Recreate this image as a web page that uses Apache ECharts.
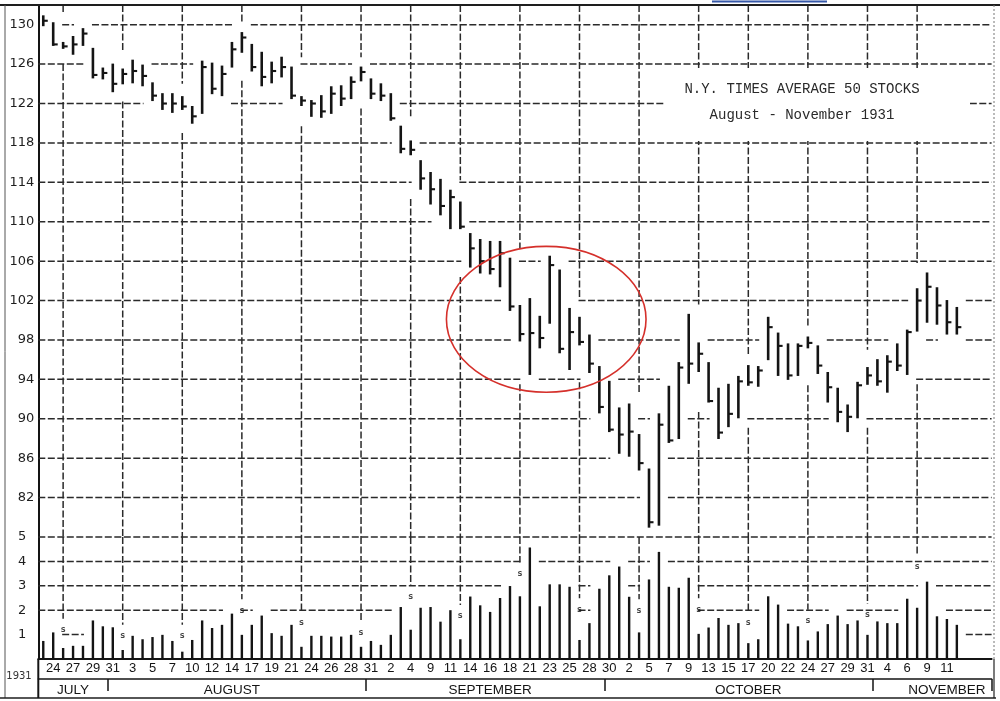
<!DOCTYPE html>
<html>
<head>
<meta charset="utf-8">
<title>N.Y. Times Average 50 Stocks, August - November 1931</title>
<script src="https://cdn.jsdelivr.net/npm/echarts@6.0.0/dist/echarts.min.js"></script>
<style>
html,body{margin:0;padding:0;background:#fff;}
#chart{width:1000px;height:701px;}
</style>
</head>
<body>
<div id="chart"></div>
<script>
// ---------------- data ----------------
const dates = ['Jul 23','Jul 24','Jul 25','Jul 27','Jul 28','Jul 29','Jul 30','Jul 31',
'Aug 1','Aug 3','Aug 4','Aug 5','Aug 6','Aug 7','Aug 8','Aug 10','Aug 11','Aug 12','Aug 13','Aug 14','Aug 15',
'Aug 17','Aug 18','Aug 19','Aug 20','Aug 21','Aug 22','Aug 24','Aug 25','Aug 26','Aug 27','Aug 28','Aug 29','Aug 31',
'Sep 1','Sep 2','Sep 3','Sep 5','Sep 8','Sep 9','Sep 10','Sep 11','Sep 12','Sep 14','Sep 15','Sep 16','Sep 17','Sep 18','Sep 19',
'Sep 21','Sep 22','Sep 23','Sep 24','Sep 25','Sep 26','Sep 28','Sep 29','Sep 30',
'Oct 1','Oct 2','Oct 3','Oct 5','Oct 6','Oct 7','Oct 8','Oct 9','Oct 10','Oct 13','Oct 14','Oct 15','Oct 16','Oct 17',
'Oct 19','Oct 20','Oct 21','Oct 22','Oct 23','Oct 24','Oct 26','Oct 27','Oct 28','Oct 29','Oct 30','Oct 31',
'Nov 2','Nov 4','Nov 5','Nov 6','Nov 7','Nov 9','Nov 10','Nov 11','Nov 12','Nov 13','Nov 14','Nov 16'];

const tickLabels = ['','24','','27','','29','','31','','3','','5','','7','','10','','12','','14','','17','','19','','21',
'','24','','26','','28','','31','','2','','4','','9','','11','','14','','16','','18','','21','','23','','25','','28','','30',
'','2','','5','','7','','9','','13','','15','','17','','20','','22','','24','','27','','29','','31','','4','','6','','9','','11',
'','','',''];

const saturdays = ['Jul 25','Aug 1','Aug 8','Aug 15','Aug 22','Aug 29','Sep 5','Sep 12','Sep 19','Sep 26',
'Oct 3','Oct 10','Oct 17','Oct 24','Oct 31','Nov 7'];
const satMarks = [1.2,0.95,0.95,2.0,1.5,1.08,2.55,1.76,3.5,2.04,2.0,2.04,1.5,1.57,1.8,3.8];

const highs = [130.9,130.2,128.2,128.8,129.6,127.6,125.6,126.0,125.5,126.4,
125.9,124.1,123.0,123.0,122.7,121.7,126.3,126.1,125.8,128.2,
129.2,128.0,127.2,126.2,126.7,125.7,122.7,122.3,122.8,123.7,
123.8,124.7,125.7,124.5,124.0,123.0,119.7,118.2,116.2,115.0,
114.3,113.2,112.0,108.8,108.2,108.0,108.0,106.3,101.5,102.2,
100.4,106.5,105.1,101.2,100.3,98.5,95.3,93.8,91.1,91.5,
88.4,84.9,90.5,93.3,95.7,100.6,97.7,95.7,93.1,93.5,
94.3,95.4,95.3,100.3,98.7,97.6,97.6,98.3,97.4,94.7,
93.1,91.4,93.7,95.2,96.0,96.4,97.6,99.0,103.2,104.8,
103.3,102.0,101.3];

const lows = [129.9,127.9,127.6,127.0,127.9,124.6,124.5,123.2,124.0,124.1,
123.8,122.3,121.4,121.1,121.4,120.0,121.0,123.0,122.8,125.7,
127.2,125.3,123.8,124.1,124.7,122.5,121.8,120.7,120.6,121.0,
121.8,122.5,124.3,122.5,122.3,120.3,117.0,116.8,113.3,111.8,
110.7,109.3,109.3,105.4,104.8,104.7,103.4,101.0,97.9,94.5,
97.2,99.7,96.7,95.0,97.5,94.7,90.6,88.7,86.5,86.2,
84.8,79.0,79.2,87.6,88.0,93.6,94.8,91.7,88.0,89.2,
90.1,93.4,93.3,96.0,94.4,94.0,94.4,97.2,94.6,91.7,
89.7,88.7,90.1,93.5,93.4,92.7,94.9,94.5,98.9,99.8,
99.6,98.6,98.6];

const closes = [130.4,128.0,127.8,128.0,129.1,124.9,125.1,124.0,125.0,125.3,
124.8,122.8,122.0,122.0,121.7,120.7,125.7,123.5,125.0,127.5,
128.7,125.7,124.7,125.3,125.7,122.8,122.3,122.0,121.2,123.0,
122.5,124.2,125.2,123.0,122.8,120.5,117.4,117.3,114.4,113.3,
111.6,112.5,109.5,107.3,106.0,105.2,106.8,101.4,98.6,98.7,
98.2,105.6,97.1,98.8,97.8,95.6,91.2,88.9,88.4,88.7,
85.5,79.5,89.4,87.8,95.2,95.6,96.6,91.8,88.6,90.5,
93.8,93.7,94.9,99.3,97.4,94.4,97.4,97.7,95.4,93.2,
90.7,90.2,93.4,94.4,93.8,95.8,95.4,98.8,102.0,103.4,
101.5,99.8,99.3];

const volumes = [0.74,1.09,0.45,0.54,0.54,1.58,1.34,1.30,0.37,0.95,
0.81,0.90,0.99,0.74,0.30,0.78,1.58,1.27,1.40,1.86,
0.99,1.40,1.78,1.06,0.95,1.40,0.50,0.95,0.95,0.92,
0.92,0.99,0.50,0.74,0.58,0.99,2.13,1.20,2.10,2.13,
1.53,2.00,0.81,2.56,2.20,1.93,2.50,2.99,2.57,4.57,
2.16,3.06,3.06,2.96,0.78,1.47,2.88,3.43,3.79,2.55,
1.09,3.26,4.39,2.96,2.92,3.33,1.03,1.29,1.68,1.40,
1.47,0.65,0.81,2.57,2.23,1.45,1.34,0.76,1.13,1.43,
1.78,1.43,1.58,0.99,1.54,1.47,1.47,2.47,2.10,3.17,
1.75,1.64,1.40];

const priceLevels = [82,86,90,94,98,102,106,110,114,118,122,126,130];
const volumeLevels = [1,2,3,4,5];
const months = ['JULY','AUGUST','SEPTEMBER','OCTOBER','NOVEMBER'];
const monthLabelAt = ['Jul 27','Aug 14','Sep 16','Oct 17','Nov 11'];
const monthBreaks = ['Jul 31','Aug 31','Sep 30','Nov 2'];
const titleLines = ['N.Y. TIMES AVERAGE 50 STOCKS','August - November 1931'];
const circled = {x: [40.6, 60.7], y: [92.7, 107.5]};   // category-index span, price span

// ---------------- style / layout ----------------
const INK = '#141414', GRID_INK = '#2a2a2a', DASH = [7, 2.5], GRID_W = 1.5;
const PRICE_MIN = 78, PRICE_MAX = 132, VOL_MAX = 5;
const LEFT = 38.3, RIGHT = 8.4, TOP = 5, PRICE_H = 532, VOL_TOP = 537, VOL_H = 122;

function lineEl(x1, y1, x2, y2, stroke, width, dash) {
  return {type: 'line', shape: {x1, y1, x2, y2}, style: {stroke, lineWidth: width, lineDash: dash || null}};
}

function hGrid(blocked) {
  return function (params, api) {
    const v = api.value(1);
    const bw = api.size([1, 0])[0];
    const p0 = api.coord([0, v]);
    const x0 = p0[0] - bw / 2, y = p0[1];
    const n = dates.length, pad = 4;
    const children = [];
    let s = -1;
    for (let i = 0; i <= n; i++) {
      const free = i < n && !blocked(i, v);
      if (free && s < 0) s = i;
      if (!free && s >= 0) {
        const a = x0 + s * bw + (s > 0 ? pad : 0);
        const b = x0 + i * bw - (i < n ? pad : 0);
        if (b - a > 2) children.push(lineEl(a, y, b, y, GRID_INK, GRID_W, DASH));
        s = -1;
      }
    }
    return {type: 'group', children};
  };
}
const priceBlocked = (i, v) => i < highs.length && v >= lows[i] - 0.9 && v <= highs[i] + 0.9;
const volBlocked = (i, v) => i < volumes.length && volumes[i] >= v - 0.3;

function satPriceLine(params, api) {
  const i = api.value(0);
  const nb = [i - 1, i, i + 1].filter(k => k >= 0 && k < highs.length);
  const gapTop = Math.max(...nb.map(k => highs[k])) + 1;
  const gapBot = Math.min(...nb.map(k => lows[k])) - 1;
  const seg = (v1, v2) => { const a = api.coord([i, v1]), b = api.coord([i, v2]);
    return lineEl(a[0], a[1], b[0], b[1], GRID_INK, GRID_W, DASH); };
  const ch = [];
  if (gapTop < PRICE_MAX - 0.3) ch.push(seg(PRICE_MAX, gapTop));
  if (gapBot > PRICE_MIN) ch.push(seg(gapBot, PRICE_MIN));
  return {type: 'group', children: ch};
}

function satVolLine(params, api) {
  const i = api.value(0), m = api.value(1);
  const a = api.coord([i, VOL_MAX]), b = api.coord([i, m + 0.45]);
  return lineEl(a[0], a[1], b[0], b[1], GRID_INK, GRID_W, DASH);
}

function hlcBar(params, api) {
  const i = api.value(0);
  const h = api.coord([i, api.value(1)]), l = api.coord([i, api.value(2)]), c = api.coord([i, api.value(3)]);
  return {type: 'group', children: [
    lineEl(h[0], h[1] - 0.5, l[0], l[1] + 0.5, INK, 2.6),
    lineEl(c[0], c[1], c[0] + 4.5, c[1], INK, 2.1)
  ]};
}

const chart = echarts.init(document.getElementById('chart'), null, {renderer: 'canvas'});

const option = {
  animation: false,
  backgroundColor: '#fff',
  grid: [
    {left: LEFT, right: RIGHT, top: TOP, height: PRICE_H, outerBoundsMode: 'none'},
    {left: LEFT, right: RIGHT, top: VOL_TOP, height: VOL_H, outerBoundsMode: 'none'}
  ],
  xAxis: [
    {gridIndex: 0, type: 'category', data: dates, boundaryGap: true,
     axisLine: {show: false}, axisTick: {show: false}, axisLabel: {show: false}, splitLine: {show: false}},
    {gridIndex: 1, type: 'category', data: dates, boundaryGap: true,
     axisLine: {show: true, lineStyle: {color: INK, width: 2}},
     axisTick: {show: false}, splitLine: {show: false},
     axisLabel: {interval: 0, margin: 3, fontSize: 13, fontFamily: 'Liberation Sans', color: '#141414',
                 formatter: (v, i) => tickLabels[i]}},
    {gridIndex: 1, type: 'category', data: dates, boundaryGap: true, position: 'bottom', offset: 20,
     axisLine: {show: true, lineStyle: {color: INK, width: 1.5}},
     axisTick: {show: true, interval: (i, v) => monthBreaks.includes(v), length: 12,
                lineStyle: {color: INK, width: 1.5}},
     splitLine: {show: false},
     axisLabel: {interval: (i, v) => monthLabelAt.includes(v), margin: 4, fontSize: 13.5,
                 fontFamily: 'Liberation Sans', color: '#141414',
                 formatter: v => months[monthLabelAt.indexOf(v)] || ''}}
  ],
  yAxis: [
    {gridIndex: 0, type: 'value', min: PRICE_MIN, max: PRICE_MAX, interval: 2,
     axisLine: {show: true, lineStyle: {color: INK, width: 2}}, axisTick: {show: false}, splitLine: {show: false},
     axisLabel: {margin: 4, fontSize: 13, fontFamily: 'DejaVu Sans', color: '#1e1e1e',
                 formatter: v => priceLevels.includes(v) ? String(v) : ''}},
    {gridIndex: 1, type: 'value', min: 0, max: VOL_MAX, interval: 1,
     axisLine: {show: true, lineStyle: {color: INK, width: 2}}, axisTick: {show: false}, splitLine: {show: false},
     axisLabel: {margin: 12, fontSize: 13, fontFamily: 'DejaVu Sans', color: '#1e1e1e',
                 formatter: v => volumeLevels.includes(v) ? String(v) : ''}}
  ],
  series: [
    {type: 'custom', name: 'price grid', xAxisIndex: 0, yAxisIndex: 0, silent: true, z: 1,
     data: priceLevels.map(v => [0, v]), encode: {x: 0, y: 1}, renderItem: hGrid(priceBlocked)},
    {type: 'custom', name: 'saturday lines', xAxisIndex: 0, yAxisIndex: 0, silent: true, z: 1,
     data: saturdays.map(d => [dates.indexOf(d), PRICE_MIN]), encode: {x: 0, y: 1}, renderItem: satPriceLine},
    {type: 'custom', name: 'HLC', xAxisIndex: 0, yAxisIndex: 0, z: 3,
     data: highs.map((h, i) => [i, h, lows[i], closes[i]]), encode: {x: 0, y: [1, 2, 3]}, renderItem: hlcBar},
    {type: 'custom', name: 'volume grid', xAxisIndex: 1, yAxisIndex: 1, silent: true, z: 1,
     data: volumeLevels.map(v => [0, v]), encode: {x: 0, y: 1}, renderItem: hGrid(volBlocked)},
    {type: 'custom', name: 'volume saturday lines', xAxisIndex: 1, yAxisIndex: 1, silent: true, z: 1,
     data: saturdays.map((d, k) => [dates.indexOf(d), satMarks[k]]), encode: {x: 0, y: 1}, renderItem: satVolLine},
    {type: 'bar', name: 'Volume', xAxisIndex: 1, yAxisIndex: 1, z: 3, barWidth: 2.4,
     itemStyle: {color: INK}, data: volumes},
    {type: 'scatter', name: 'Saturday', xAxisIndex: 1, yAxisIndex: 1, z: 4, symbolSize: 1,
     itemStyle: {color: 'rgba(0,0,0,0)'},
     label: {show: true, position: 'inside', formatter: 's', fontSize: 9, fontWeight: 'bold',
             fontFamily: 'DejaVu Sans Mono', color: INK},
     data: saturdays.map((d, k) => [d, satMarks[k]])}
  ]
};
chart.setOption(option);

// annotation ellipse located through the chart's own scales
function px(xIdx, y) {
  const i0 = Math.floor(xIdx), f = xIdx - i0;
  const a = chart.convertToPixel({gridIndex: 0}, [i0, y]);
  const b = chart.convertToPixel({gridIndex: 0}, [i0 + 1, y]);
  return [a[0] + (b[0] - a[0]) * f, a[1]];
}
const e1 = px(circled.x[0], circled.y[1]);
const e2 = px(circled.x[1], circled.y[0]);
const volBase = chart.convertToPixel({gridIndex: 1}, [0, 0])[1];

chart.setOption({graphic: {elements: [
  {type: 'rect', z: 50, silent: true, shape: {x: 665, y: 68, width: 305, height: 73}, style: {fill: '#fff'}},
  {type: 'text', z: 51, x: 802, y: 89, style: {text: titleLines[0], font: '14px "Liberation Mono"', fill: '#2a2a2a', align: 'center', verticalAlign: 'middle'}},
  {type: 'text', z: 51, x: 802, y: 115, style: {text: titleLines[1], font: '14px "Liberation Mono"', fill: '#2a2a2a', align: 'center', verticalAlign: 'middle'}},
  {type: 'ellipse', z: 60, silent: true,
   shape: {cx: (e1[0] + e2[0]) / 2, cy: (e1[1] + e2[1]) / 2, rx: Math.abs(e2[0] - e1[0]) / 2, ry: Math.abs(e2[1] - e1[1]) / 2},
   style: {fill: 'none', stroke: '#d5302b', lineWidth: 1.6}},
  {type: 'line', z: 40, shape: {x1: 0, y1: 5, x2: 1000, y2: 5}, style: {stroke: '#1e1e1e', lineWidth: 2}},
  {type: 'line', z: 40, shape: {x1: 5, y1: 5, x2: 5, y2: 698}, style: {stroke: '#555', lineWidth: 1}},
  {type: 'line', z: 40, shape: {x1: 994, y1: 5, x2: 994, y2: volBase}, style: {stroke: '#777', lineWidth: 1, lineDash: [2, 2]}},
  {type: 'line', z: 40, shape: {x1: 994, y1: volBase, x2: 994, y2: 698}, style: {stroke: '#333', lineWidth: 1.3}},
  {type: 'line', z: 40, shape: {x1: 0, y1: 698, x2: 996, y2: 698}, style: {stroke: '#1e1e1e', lineWidth: 1.5}},
  {type: 'line', z: 40, shape: {x1: LEFT, y1: volBase, x2: LEFT, y2: 698}, style: {stroke: INK, lineWidth: 2}},
  {type: 'text', z: 40, x: 19, y: 676, style: {text: '1931', font: '10px "DejaVu Sans"', fill: '#333', align: 'center', verticalAlign: 'middle'}},
  {type: 'line', z: 40, shape: {x1: 712, y1: 1.5, x2: 827, y2: 1.5}, style: {stroke: '#3658a8', lineWidth: 2}}
]}});
</script>
</body>
</html>
